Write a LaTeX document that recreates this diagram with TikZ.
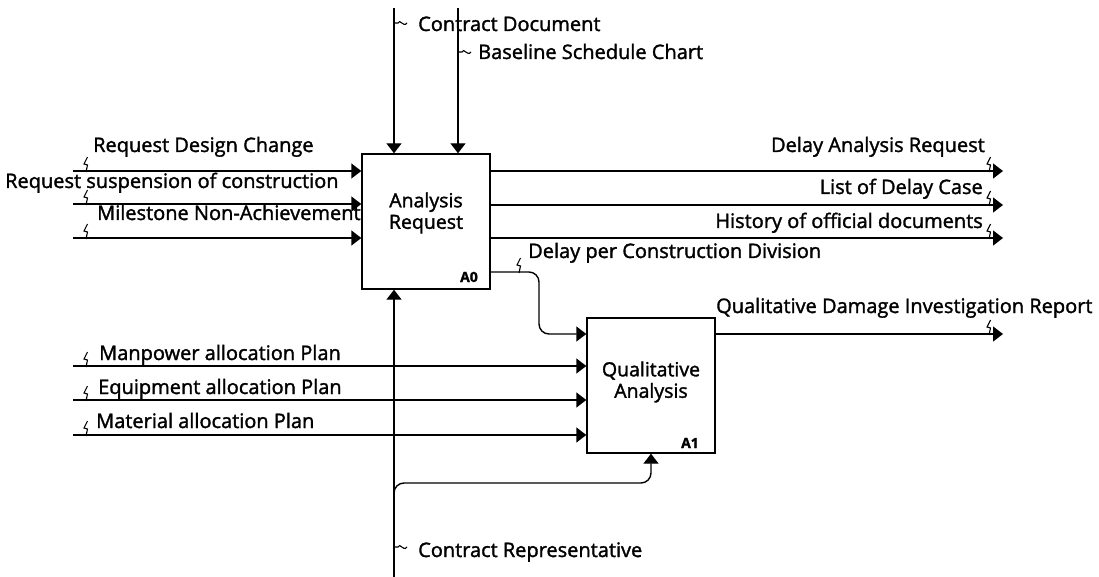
\documentclass[tikz,border=0pt]{standalone}
\usepackage{fontspec}
\setmainfont{Open Sans}[FakeBold=1.6]
\usepackage{tikz}
\usetikzlibrary{calc, arrows.meta}
\tikzstyle{arrow} = [line width=1.4pt, -{Triangle[length=10pt,width=15pt]}]
\tikzstyle{func}  = [draw, line width=1.4pt, minimum width=128pt, minimum height=135pt, inner sep=0pt]
\tikzstyle{lbl}   = [inner sep=0pt, font=\fontsize{20}{22}\selectfont]
\tikzstyle{boxlbl}= [inner sep=0pt, align=center, font=\fontsize{19.5}{21.5}\selectfont]
\tikzstyle{num}   = [inner sep=0pt, font=\fontsize{14}{16}\selectfont\bfseries]
\tikzset{
  squigv/.pic={\draw[line width=1.1pt] (0,1) -- (1.5,-6) -- (-2,-7) -- (1.5,-14);},
  squigh/.pic={\draw[line width=1.1pt] (0,0) -- (4,0) .. controls (6,-5) and (9,5) .. (13,0);}
}

\begin{document}
\begin{tikzpicture}[x=1pt,y=-1pt]
  \useasboundingbox (0,0) rectangle (1099,577);

  %the two activity boxes
  \node[func] (a0) at (426,221.5) {};
  \node[func] (a1) at (651,385.5) {};
  \node[boxlbl] (a0txt) at (426,213) {Analysis\\Request};
  \node[boxlbl] (a1txt) at (651,382) {Qualitative\\Analysis};
  \node[num,anchor=base east] (a0num) at (478,282) {A0};
  \node[num,anchor=base east] (a1num) at (699,448) {A1};

  %inputs of A0 on the left
  \foreach \y[count=\i] in {171,204,238}{
    \coordinate (in\i) at (73,\y);
    \draw[arrow] (in\i) -- (in\i -| a0.west);
    \pic at (86,\y) {squigv};
  }
  \node[lbl,anchor=base west] (in1txt) at (93,152) {Request Design Change};
  \node[lbl,anchor=base west] (in2txt) at (5,188) {Request suspension of construction};
  \node[lbl,anchor=base west] (in3txt) at (97,220) {Milestone Non-Achievement};

  %outputs of A0 on the right
  \foreach \y[count=\i] in {171,205,238}{
    \coordinate (out\i) at (1003,\y);
    \draw[arrow] (out\i -| a0.east) -- (out\i);
    \pic at (989,\y) {squigv};
  }
  \node[lbl,anchor=base east] (out1txt) at (985,152) {Delay Analysis Request};
  \node[lbl,anchor=base east] (out2txt) at (983,194) {List of Delay Case};
  \node[lbl,anchor=base east] (out3txt) at (983,228) {History of official documents};

  %controls from the top
  \coordinate (ctl1) at (394,8);
  \coordinate (ctl2) at (458,8);
  \draw[arrow] (ctl1) -- (ctl1 |- a0.north);
  \draw[arrow] (ctl2) -- (ctl2 |- a0.north);
  \pic at (394,23) {squigh};
  \pic at (458,52) {squigh};
  \node[lbl,anchor=base west] (ctl1txt) at (418,31) {Contract Document};
  \node[lbl,anchor=base west] (ctl2txt) at (478,59) {Baseline Schedule Chart};

  %A0 feeds A1
  \coordinate (dly) at (539,272);
  \coordinate (a1out) at (1003,334);
  \draw[arrow, rounded corners=10pt] (a0.east |- dly) -- (dly) |- (a1.west |- a1out);
  \pic at (519,272) {squigv};
  \node[lbl,anchor=base west] (dlytxt) at (528,258) {Delay per Construction Division};

  %output of A1
  \draw[arrow] (a1.east |- a1out) -- (a1out);
  \pic at (989,334) {squigv};
  \node[lbl,anchor=base west] (a1outtxt) at (716,313) {Qualitative Damage Investigation Report};

  %inputs of A1 on the left
  \foreach \y[count=\i] in {366,400,435}{
    \coordinate (pl\i) at (73,\y);
    \draw[arrow] (pl\i) -- (pl\i -| a1.west);
    \pic at (86,\y) {squigv};
  }
  \node[lbl,anchor=base west] (pl1txt) at (99,360) {Manpower allocation Plan};
  \node[lbl,anchor=base west] (pl2txt) at (98,394) {Equipment allocation Plan};
  \node[lbl,anchor=base west] (pl3txt) at (96,428) {Material allocation Plan};

  %mechanism from the bottom
  \coordinate (mech) at (394,577);
  \coordinate (brk) at (394,495);
  \draw[arrow] (mech) -- (mech |- a0.south);
  \draw[arrow, rounded corners=10pt] (brk) |- (a1.south |- 0,483) -- (a1.south);
  \pic at (394,547) {squigh};
  \node[lbl,anchor=base west] (mechtxt) at (418,557) {Contract Representative};
\end{tikzpicture}
\end{document}
